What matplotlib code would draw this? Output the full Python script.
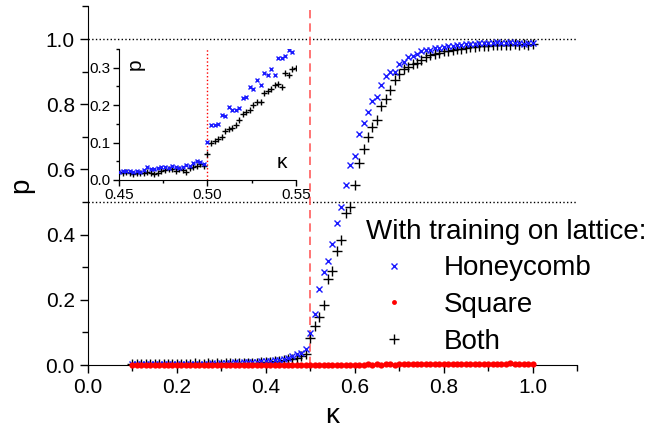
import numpy as np
import matplotlib
matplotlib.use('Agg')
import matplotlib.pyplot as plt
from matplotlib.ticker import MultipleLocator

plt.rcParams['font.family'] = ['Liberation Sans', 'DejaVu Sans']

# main curves, kappa from 0.10 to 1.00 in steps of 0.01
kappa = [round(0.10 + 0.01 * i, 2) for i in range(91)]

p_honey = [
    0.003, 0.002, 0.003, 0.003, 0.002, 0.003, 0.004, 0.003, 0.003, 0.002,
    0.003, 0.004, 0.003, 0.003, 0.004, 0.003, 0.004, 0.004, 0.005, 0.004,
    0.006, 0.007, 0.006, 0.008, 0.007, 0.008, 0.009, 0.009, 0.010, 0.011,
    0.012, 0.013, 0.014, 0.016, 0.018, 0.022, 0.028, 0.033, 0.038, 0.048,
    0.099, 0.155, 0.233, 0.286, 0.320, 0.370, 0.435, 0.486, 0.552, 0.613,
    0.642, 0.710, 0.743, 0.776, 0.809, 0.823, 0.860, 0.886, 0.899, 0.900,
    0.925, 0.930, 0.944, 0.948, 0.954, 0.962, 0.965, 0.968, 0.972, 0.974,
    0.976, 0.978, 0.979, 0.981, 0.982, 0.984, 0.985, 0.986, 0.987, 0.988,
    0.989, 0.988, 0.990, 0.989, 0.988, 0.990, 0.987, 0.988, 0.986, 0.988,
    0.987,
]

p_both = [
    0.004, 0.003, 0.004, 0.003, 0.004, 0.004, 0.003, 0.004, 0.004, 0.003,
    0.004, 0.004, 0.003, 0.004, 0.005, 0.004, 0.004, 0.005, 0.004, 0.005,
    0.004, 0.005, 0.005, 0.006, 0.005, 0.006, 0.006, 0.007, 0.007, 0.008,
    0.008, 0.009, 0.011, 0.013, 0.015, 0.020, 0.019, 0.022, 0.028, 0.034,
    0.083, 0.121, 0.148, 0.185, 0.263, 0.289, 0.350, 0.383, 0.465, 0.486,
    0.552, 0.619, 0.663, 0.700, 0.731, 0.752, 0.794, 0.815, 0.844, 0.876,
    0.894, 0.907, 0.913, 0.925, 0.928, 0.936, 0.946, 0.950, 0.953, 0.958,
    0.962, 0.964, 0.967, 0.969, 0.971, 0.973, 0.975, 0.976, 0.978, 0.979,
    0.980, 0.981, 0.982, 0.983, 0.981, 0.983, 0.984, 0.982, 0.984, 0.983,
    0.984,
]

p_square = [
    0.001, 0.001, 0.001, 0.001, 0.001, 0.001, 0.001, 0.001, 0.001, 0.001,
    0.001, 0.001, 0.001, 0.001, 0.001, 0.001, 0.001, 0.001, 0.001, 0.001,
    0.001, 0.001, 0.001, 0.001, 0.001, 0.001, 0.001, 0.001, 0.001, 0.001,
    0.001, 0.001, 0.001, 0.001, 0.001, 0.001, 0.001, 0.001, 0.001, 0.001,
    0.001, 0.001, 0.001, 0.001, 0.001, 0.001, 0.001, 0.001, 0.001, 0.001,
    0.001, 0.001, 0.001, 0.002, 0.001, 0.002, 0.001, 0.002, 0.002, 0.001,
    0.002, 0.002, 0.002, 0.002, 0.002, 0.002, 0.002, 0.002, 0.003, 0.002,
    0.003, 0.002, 0.003, 0.003, 0.002, 0.003, 0.003, 0.003, 0.004, 0.003,
    0.003, 0.004, 0.003, 0.004, 0.004, 0.006, 0.004, 0.003, 0.004, 0.003,
    0.003,
]

# inset, kappa from 0.450 to 0.550 in steps of 0.002
kappa_in = [round(0.450 + 0.002 * i, 3) for i in range(51)]

p_honey_in = [
    0.022, 0.025, 0.024, 0.024, 0.022, 0.025, 0.022, 0.028, 0.034, 0.030,
    0.030, 0.032, 0.035, 0.036, 0.033, 0.038, 0.034, 0.031, 0.036, 0.040,
    0.038, 0.045, 0.052, 0.048, 0.044, 0.102, 0.146, 0.148, 0.150, 0.174,
    0.171, 0.194, 0.186, 0.188, 0.192, 0.219, 0.223, 0.248, 0.243, 0.268,
    0.254, 0.286, 0.281, 0.296, 0.281, 0.326, 0.326, 0.332, 0.348, 0.343,
    np.nan,
]

p_both_in = [
    0.022, 0.020, 0.022, 0.018, 0.016, 0.019, 0.020, 0.018, 0.022, 0.020,
    0.017, 0.018, 0.025, 0.027, 0.030, 0.029, 0.025, 0.030, 0.028, 0.022,
    0.032, 0.036, 0.038, 0.042, 0.038, 0.070, 0.100, 0.103, 0.109, 0.116,
    0.132, 0.136, 0.138, 0.147, 0.161, 0.177, 0.183, 0.188, 0.200, 0.208,
    0.209, 0.232, 0.237, 0.243, 0.254, 0.256, 0.248, 0.286, 0.281, 0.296,
    0.300,
]

fig = plt.figure(figsize=(6.71, 4.33), dpi=100)
ax = fig.add_axes([0.1311, 0.157, 0.7288, 0.828])

ax.axhline(1.0, color='black', ls=':', lw=1)
ax.axhline(0.5, color='black', ls=':', lw=1)
ax.axvline(0.5, color='#ff5c5c', ls=(0, (5, 3)), lw=1.2)

ax.plot(kappa, p_honey, ls='none', marker='x', ms=5, mew=1, color='#1a1aff',
        label='Honeycomb', zorder=3)
ax.plot(kappa, p_square, ls='none', marker='o', ms=4.5, mew=0,
        color='red', label='Square', zorder=4, clip_on=False)
ax.plot(kappa, p_both, ls='none', marker='+', ms=7, mew=1, color='black',
        label='Both', zorder=2)

ax.set_xlim(0, 1.1)
ax.set_ylim(0, 1.1)
ax.xaxis.set_major_locator(MultipleLocator(0.2))
ax.xaxis.set_minor_locator(MultipleLocator(0.1))
ax.yaxis.set_major_locator(MultipleLocator(0.2))
ax.yaxis.set_minor_locator(MultipleLocator(0.1))
ax.xaxis.set_major_formatter(plt.FormatStrFormatter('%.1f'))
ax.yaxis.set_major_formatter(plt.FormatStrFormatter('%.1f'))
ax.tick_params(which='major', length=6, width=1, labelsize=15)
ax.tick_params(which='minor', length=4, width=1)
for s in ['top', 'right']:
    ax.spines[s].set_visible(False)
ax.set_xlabel('κ', fontsize=20, labelpad=4)
ax.set_ylabel('p', fontsize=20, labelpad=8)

leg = ax.legend(title='With training on lattice:', frameon=False, fontsize=20,
                title_fontsize=20, alignment='left', labelspacing=0.38,
                handletextpad=0.8, borderpad=0, loc='upper left',
                bbox_to_anchor=(352 / 671, 1 - 205 / 433),
                bbox_transform=fig.transFigure)
leg.legend_handles[1].set_markersize(3.5)

# inset
axi = fig.add_axes([0.1773, 0.5843, 0.2638, 0.3025])
axi.patch.set_alpha(0)
axi.axvline(0.5, color='red', ls=':', lw=1)
axi.plot(kappa_in, p_honey_in, ls='none', marker='x', ms=3.5, mew=1,
         color='#1a1aff', zorder=3)
axi.plot(kappa_in, p_both_in, ls='none', marker='+', ms=5, mew=1,
         color='black', zorder=2)
axi.set_xlim(0.45, 0.55)
axi.set_ylim(0, 0.35)
axi.xaxis.set_major_locator(MultipleLocator(0.05))
axi.xaxis.set_minor_locator(MultipleLocator(0.025))
axi.yaxis.set_major_locator(MultipleLocator(0.1))
axi.yaxis.set_minor_locator(MultipleLocator(0.05))
axi.xaxis.set_major_formatter(plt.FormatStrFormatter('%.2f'))
axi.yaxis.set_major_formatter(plt.FormatStrFormatter('%.1f'))
axi.tick_params(which='major', length=4, width=1, labelsize=11, pad=2)
axi.tick_params(which='minor', length=2.5, width=1)
for s in ['top', 'right']:
    axi.spines[s].set_visible(False)
axi.text(0.09, 0.93, 'p', transform=axi.transAxes, rotation=90, fontsize=15,
         ha='center', va='top')
axi.text(0.92, 0.06, 'κ', transform=axi.transAxes, fontsize=15,
         ha='center', va='bottom')

fig.savefig('out.png', dpi=100)
